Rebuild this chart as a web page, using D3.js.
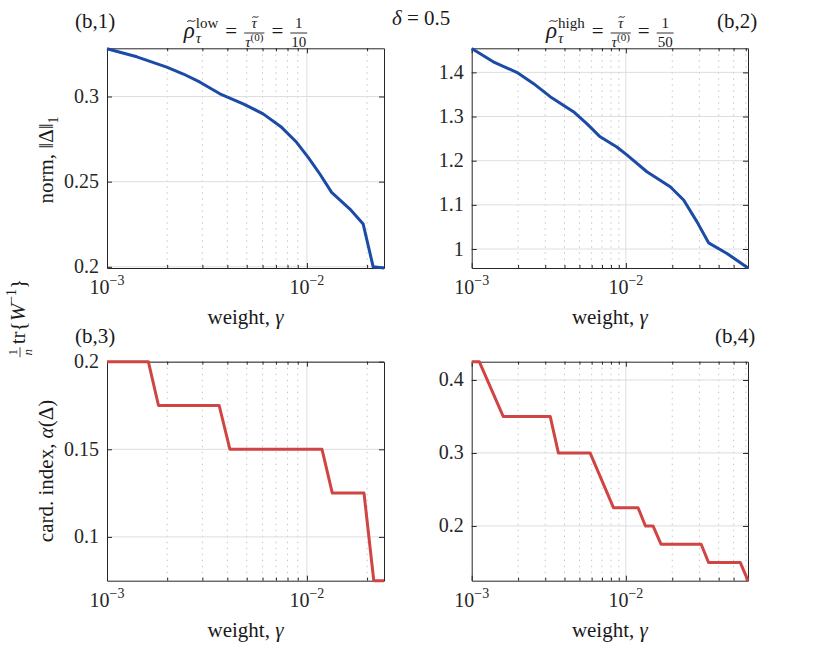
<!DOCTYPE html>
<html lang="en">
<head>
<meta charset="utf-8">
<title>weight sweep</title>
<script src="https://cdn.jsdelivr.net/npm/d3@7"></script>
<style>
  body { margin: 0; background: #fff; }
  svg { font-family: "Liberation Serif", "DejaVu Serif", serif; }
  .domain { stroke: #262626; }
  .tick line { stroke: #262626; }
</style>
</head>
<body>
<div id="chart"></div>
<script>
// ---- data ----
var gamma1 = [1e-3, 1.41e-3, 1.99e-3, 2.41e-3, 2.92e-3, 3.67e-3, 4.80e-3, 6.04e-3, 7.47e-3, 8.88e-3, 1.015e-2, 1.161e-2, 1.329e-2, 1.641e-2, 1.912e-2, 2.145e-2, 2.43e-2];
var norm1  = [0.328, 0.3233, 0.3172, 0.3132, 0.3084, 0.3016, 0.2957, 0.2898, 0.2819, 0.2731, 0.2643, 0.2545, 0.2437, 0.2339, 0.2251, 0.2000, 0.1993];

var gamma2 = [1e-3, 1.38e-3, 1.96e-3, 2.51e-3, 3.23e-3, 4.57e-3, 5.58e-3, 6.81e-3, 8.74e-3, 1.015e-2, 1.369e-2, 1.94e-2, 2.37e-2, 2.89e-2, 3.44e-2, 4.53e-2, 6.2e-2];
var norm2  = [1.454, 1.424, 1.400, 1.375, 1.345, 1.311, 1.284, 1.254, 1.231, 1.213, 1.175, 1.141, 1.111, 1.062, 1.014, 0.990, 0.957];

var gamma3 = [1e-3, 1.61e-3, 1.81e-3, 3.64e-3, 4.12e-3, 1.19e-2, 1.34e-2, 1.93e-2, 2.16e-2, 2.43e-2];
var card3  = [0.2, 0.2, 0.175, 0.175, 0.15, 0.15, 0.125, 0.125, 0.075, 0.075];

var gamma4 = [1e-3, 1.12e-3, 1.60e-3, 3.23e-3, 3.65e-3, 5.86e-3, 8.31e-3, 1.20e-2, 1.34e-2, 1.50e-2, 1.69e-2, 3.08e-2, 3.44e-2, 5.52e-2, 6.2e-2];
var card4  = [0.425, 0.425, 0.35, 0.35, 0.3, 0.3, 0.225, 0.225, 0.2, 0.2, 0.175, 0.175, 0.15, 0.15, 0.125];

var xMajor = [1e-3, 1e-2];
var xMajorLabels = ["\u22123", "\u22122"];   // exponents of 10
var yTicks1 = [0.2, 0.25, 0.3];
var yTicks2 = [1, 1.1, 1.2, 1.3, 1.4];
var yTicks3 = [0.1, 0.15, 0.2];
var yTicks4 = [0.2, 0.3, 0.4];
var panelTags = ["(b,1)", "(b,2)", "(b,3)", "(b,4)"];

// ---- layout ----
var W = 828, H = 661;
var blue = "#1b4ba6", red = "#d04444", ink = "#1a1a1a";
var svg = d3.select("#chart").append("svg").attr("width", W).attr("height", H);

var panels = [
  {x0: 107, x1: 384, y0: 48.3, y1: 268, xd: [1e-3, 2.43e-2], yd: [0.1993, 0.3283], gx: gamma1, gy: norm1, yt: yTicks1, col: blue},
  {x0: 471.7, x1: 748, y0: 48.3, y1: 268, xd: [1e-3, 6.2e-2], yd: [0.957, 1.4545], gx: gamma2, gy: norm2, yt: yTicks2, col: blue},
  {x0: 107, x1: 384, y0: 361.7, y1: 580.7, xd: [1e-3, 2.43e-2], yd: [0.075, 0.2], gx: gamma3, gy: card3, yt: yTicks3, col: red},
  {x0: 471.7, x1: 748, y0: 361.7, y1: 580.7, xd: [1e-3, 6.2e-2], yd: [0.125, 0.425], gx: gamma4, gy: card4, yt: yTicks4, col: red}
];

panels.forEach(function(p, k) {
  var x = d3.scaleLog().domain(p.xd).range([p.x0, p.x1]);
  var y = d3.scaleLinear().domain(p.yd).range([p.y1, p.y0]);
  var g = svg.append("g");

  // minor x positions 2..9 x 10^k inside the domain
  var minor = [];
  [1e-3, 1e-2].forEach(function(b) {
    for (var m = 2; m <= 9; m++) {
      var v = m * b;
      if (v < p.xd[1]) minor.push(v);
    }
  });

  // grid
  g.selectAll("line.mgrid").data(minor).enter().append("line")
    .attr("x1", x).attr("x2", x).attr("y1", p.y0).attr("y2", p.y1)
    .attr("stroke", "#b8b8b8").attr("stroke-width", 0.8).attr("stroke-dasharray", "1.5,4.5");
  g.selectAll("line.xgrid").data(xMajor.slice(1)).enter().append("line")
    .attr("x1", x).attr("x2", x).attr("y1", p.y0).attr("y2", p.y1)
    .attr("stroke", "#dedede").attr("stroke-width", 1);
  g.selectAll("line.ygrid").data(p.yt).enter().append("line")
    .attr("x1", p.x0).attr("x2", p.x1).attr("y1", y).attr("y2", y)
    .attr("stroke", "#dedede").attr("stroke-width", 1);

  // box and ticks (inward, on all sides)
  var ax = [
    {a: d3.axisBottom(x), t: "translate(0," + p.y1 + ")"},
    {a: d3.axisTop(x), t: "translate(0," + p.y0 + ")"}
  ];
  ax.forEach(function(o) {
    g.append("g").attr("transform", o.t)
      .call(o.a.tickValues(xMajor).tickSizeInner(-5).tickSizeOuter(0).tickFormat(""));
    g.append("g").attr("transform", o.t)
      .call(o.a.tickValues(minor).tickSizeInner(-3).tickSizeOuter(0).tickFormat(""))
      .select(".domain").remove();
  });
  g.append("g").attr("transform", "translate(" + p.x0 + ",0)")
    .call(d3.axisLeft(y).tickValues(p.yt).tickSizeInner(-5).tickSizeOuter(0).tickFormat(""));
  g.append("g").attr("transform", "translate(" + p.x1 + ",0)")
    .call(d3.axisRight(y).tickValues(p.yt).tickSizeInner(-5).tickSizeOuter(0).tickFormat(""));
  g.selectAll(".domain").attr("stroke-width", 1);

  // y tick labels
  g.selectAll("text.yl").data(p.yt).enter().append("text")
    .attr("x", p.x0 - 8).attr("y", function(d) { return y(d) + 6.5; })
    .attr("text-anchor", "end").attr("fill", "#262626").style("font-size", "20px")
    .text(function(d) { return d3.format("")(d); });

  // x tick labels 10^k
  xMajor.forEach(function(v, i) {
    var t = g.append("text").attr("x", x(v)).attr("y", p.y1 + 26)
      .attr("text-anchor", "middle").attr("fill", "#262626").style("font-size", "20px");
    t.append("tspan").text("10");
    t.append("tspan").attr("dy", -9).style("font-size", "14px").text(xMajorLabels[i]);
  });

  // x label
  var xl = g.append("text").attr("x", (p.x0 + p.x1) / 2).attr("y", p.y1 + 56)
    .attr("text-anchor", "middle").attr("fill", ink).style("font-size", "21px");
  xl.append("tspan").text("weight, ");
  xl.append("tspan").style("font-style", "italic").text("\u03b3");

  // the line
  var pts = p.gx.map(function(d, i) { return [d, p.gy[i]]; });
  g.append("path").datum(pts)
    .attr("fill", "none").attr("stroke", p.col).attr("stroke-width", 3)
    .attr("stroke-linejoin", "round")
    .attr("d", d3.line().x(function(d) { return x(d[0]); }).y(function(d) { return y(d[1]); }));
});

// panel tags
var tagPos = [[75, 28], [717, 28], [75, 343], [715, 343]];
panelTags.forEach(function(s, i) {
  svg.append("text").attr("x", tagPos[i][0]).attr("y", tagPos[i][1])
    .attr("fill", ink).style("font-size", "21px").text(s);
});

// delta = 0.5
var dl = svg.append("text").attr("x", 392).attr("y", 25).attr("fill", ink).style("font-size", "21px");
dl.append("tspan").style("font-style", "italic").text("\u03b4");
dl.append("tspan").text(" = 0.5");

// small tilde accent drawn as a curve
function tilde(g, cx, cy, w) {
  var h = w * 0.22;
  g.append("path")
    .attr("d", "M" + (cx - w / 2) + "," + (cy + h / 2) +
      " C" + (cx - w / 4) + "," + (cy - h * 1.4) + " " + (cx + w / 4) + "," + (cy + h * 1.4) +
      " " + (cx + w / 2) + "," + (cy - h / 2))
    .attr("fill", "none").attr("stroke", ink).attr("stroke-width", 1);
}

// titles: rho~_tau^{label} = tau~ / tau^(0) = 1/den
function mathTitle(cx, base, label, den) {
  var g = svg.append("g").attr("fill", ink);
  var x = 0;
  function put(txt, xx, yy, size, ital, anchor) {
    var t = g.append("text").attr("x", xx).attr("y", yy)
      .style("font-size", size + "px").style("font-style", ital ? "italic" : "normal")
      .attr("text-anchor", anchor || "start").text(txt);
    return t.node().getComputedTextLength();
  }
  // rho with tilde
  var wr = put("\u03c1", x, base, 23, true);
  tilde(g, x + wr / 2 + 2, base - 17, 8);
  x += wr + 1;
  var w1 = put(label, x, base - 10, 15, false);
  var w2 = put("\u03c4", x, base + 5, 15, true);
  x += Math.max(w1, w2) + 7;
  x += put("=", x, base, 21, false) + 7;
  // fraction tau~ / tau^(0)
  var bar = base - 5;
  var gd = g.append("text").attr("y", base + 9).style("font-size", "15px");
  gd.append("tspan").style("font-style", "italic").text("\u03c4");
  gd.append("tspan").attr("dy", -6).style("font-size", "11px").text("(0)");
  var dw = gd.node().getComputedTextLength() + 2;
  gd.attr("x", x + 1);
  put("\u03c4", x + dw / 2, base - 10, 15, true, "middle");
  tilde(g, x + dw / 2 + 1, base - 21, 6);
  g.append("line").attr("x1", x).attr("x2", x + dw).attr("y1", bar).attr("y2", bar)
    .attr("stroke", ink).attr("stroke-width", 0.9);
  x += dw + 7;
  x += put("=", x, base, 21, false) + 7;
  // fraction 1 / den
  var fw = put(den, x + 1, base + 9, 15, false) + 2;
  put("1", x + fw / 2, base - 10, 15, false, "middle");
  g.append("line").attr("x1", x).attr("x2", x + fw).attr("y1", bar).attr("y2", bar)
    .attr("stroke", ink).attr("stroke-width", 0.9);
  x += fw;
  g.attr("transform", "translate(" + (cx - x / 2) + ",0)");
}
mathTitle((panels[0].x0 + panels[0].x1) / 2, 38, "low", "10");
mathTitle((panels[1].x0 + panels[1].x1) / 2, 38, "high", "50");

// y labels (rotated)
function yLabel(cx, cy, parts) {
  var t = svg.append("text").attr("transform", "translate(" + cx + "," + cy + ") rotate(-90)")
    .attr("text-anchor", "middle").attr("fill", ink).style("font-size", "21px");
  parts.forEach(function(q) {
    var s = t.append("tspan").text(q[0]);
    if (q[1]) s.style("font-style", "italic");
    if (q[2]) s.attr("dy", q[2]).style("font-size", q[3] + "px");
  });
  return t;
}
yLabel(53, 160, [["norm, \u2016\u0394\u2016"], ["1", false, 5, 14], [" ", false, -5, 14]]);
yLabel(53, 471, [["card. index, "], ["\u03b1", true], ["(\u0394)"]]);
// 1/n tr{W^-1}
var tl = svg.append("g").attr("transform", "translate(25,318) rotate(-90)").attr("fill", ink);
var tt = tl.append("text").attr("x", -34).attr("y", 0).style("font-size", "21px");
tt.append("tspan").text("tr{");
tt.append("tspan").style("font-style", "italic").text("W");
tt.append("tspan").attr("dy", -9).style("font-size", "14px").text("\u22121");
tt.append("tspan").attr("dy", 9).text("}");
tl.append("text").attr("x", -42).attr("y", -8).attr("text-anchor", "middle").style("font-size", "13px").text("1");
tl.append("text").attr("x", -42).attr("y", 7).attr("text-anchor", "middle").style("font-size", "13px").style("font-style", "italic").text("n");
tl.append("line").attr("x1", -47).attr("x2", -37).attr("y1", -5).attr("y2", -5).attr("stroke", ink).attr("stroke-width", 0.8);
// re-center the group on y = 318
var bb = tl.node().getBBox();
tl.attr("transform", "translate(25," + (318 + bb.x + bb.width / 2) + ") rotate(-90)");
</script>
</body>
</html>
